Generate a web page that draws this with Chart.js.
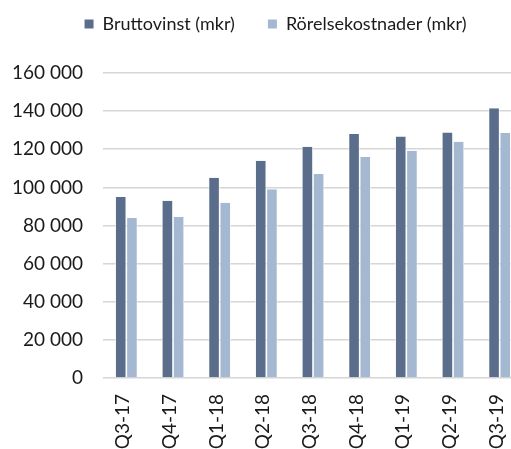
<!DOCTYPE html>
<html>
<head>
<meta charset="utf-8">
<script src="https://cdn.jsdelivr.net/npm/chart.js@4.4.1/dist/chart.umd.min.js"></script>
<style>
  html, body { margin: 0; padding: 0; background: #fff; overflow: hidden; width: 511px; height: 449px; }
  canvas { display: block; }
</style>
</head>
<body>
<canvas id="c" width="551" height="449"></canvas>
<script>
const categories = ['Q3-17', 'Q4-17', 'Q1-18', 'Q2-18', 'Q3-18', 'Q4-18', 'Q1-19', 'Q2-19', 'Q3-19'];
const bruttovinst = [95000, 93000, 105000, 114000, 121300, 128000, 126700, 128800, 141500];
const rorelsekostnader = [84000, 84500, 92000, 99000, 107000, 116000, 119200, 124000, 128500];
const seriesNames = ['Bruttovinst (mkr)', 'Rörelsekostnader (mkr)'];
const yTicks = { min: 0, max: 160000, step: 20000 };

const FONT = 'Lato';
const TEXT = '#1a1a1a';
const GRID = '#d6d6d6';

function fmt(v) {
  return String(v).replace(/\B(?=(\d{3})+(?!\d))/g, '\u00a0');
}

new Chart(document.getElementById('c'), {
  type: 'bar',
  data: {
    labels: categories,
    datasets: [
      { label: seriesNames[0], data: bruttovinst, backgroundColor: '#5A6E8C',
        borderColor: '#ffffff', borderWidth: { left: 0.8, right: 0.8, top: 0, bottom: 0 }, borderSkipped: false },
      { label: seriesNames[1], data: rorelsekostnader, backgroundColor: '#A4B9D1',
        borderColor: '#ffffff', borderWidth: { left: 0.8, right: 0.8, top: 0, bottom: 0 }, borderSkipped: false }
    ]
  },
  options: {
    responsive: false,
    animation: false,
    categoryPercentage: 0.48,
    barPercentage: 1.0,
    layout: { padding: { top: -18, left: 0, right: 0, bottom: 0 } },
    plugins: {
      tooltip: { enabled: false },
      legend: {
        position: 'top',
        align: 'center',
        labels: {
          font: { family: FONT, size: 18 },
          color: TEXT,
          boxWidth: 9,
          boxHeight: 9,
          padding: 33,
          generateLabels: (chart) => Chart.defaults.plugins.legend.labels.generateLabels(chart).map(l => Object.assign(l, { lineWidth: 0 }))
        }
      }
    },
    scales: {
      x: {
        grid: { display: false },
        border: { display: false },
        ticks: {
          font: { family: FONT, size: 19 },
          color: TEXT,
          minRotation: 90,
          maxRotation: 90,
          padding: 8,
          labelOffset: -3
        },
        afterFit: (s) => { s.height = 71; }
      },
      xTop: {
        type: 'category',
        labels: categories,
        position: 'top',
        display: true,
        grid: { display: false, drawTicks: false },
        border: { display: false },
        ticks: { display: false },
        afterFit: (s) => { s.height = 30; }
      },
      y: {
        min: yTicks.min,
        max: yTicks.max,
        border: { display: false },
        grid: { color: GRID, lineWidth: 1.6, drawTicks: false },
        ticks: {
          stepSize: yTicks.step,
          font: { family: FONT, size: 19 },
          color: TEXT,
          padding: 20,
          callback: (v) => fmt(v)
        },
        afterFit: (s) => { s.width = 103; }
      },
      yRight: {
        type: 'linear',
        position: 'right',
        display: true,
        min: 0, max: 1,
        grid: { display: false, drawTicks: false },
        border: { display: false },
        ticks: { display: false },
        afterFit: (s) => { s.width = 28; }
      }
    }
  }
});
</script>
</body>
</html>
